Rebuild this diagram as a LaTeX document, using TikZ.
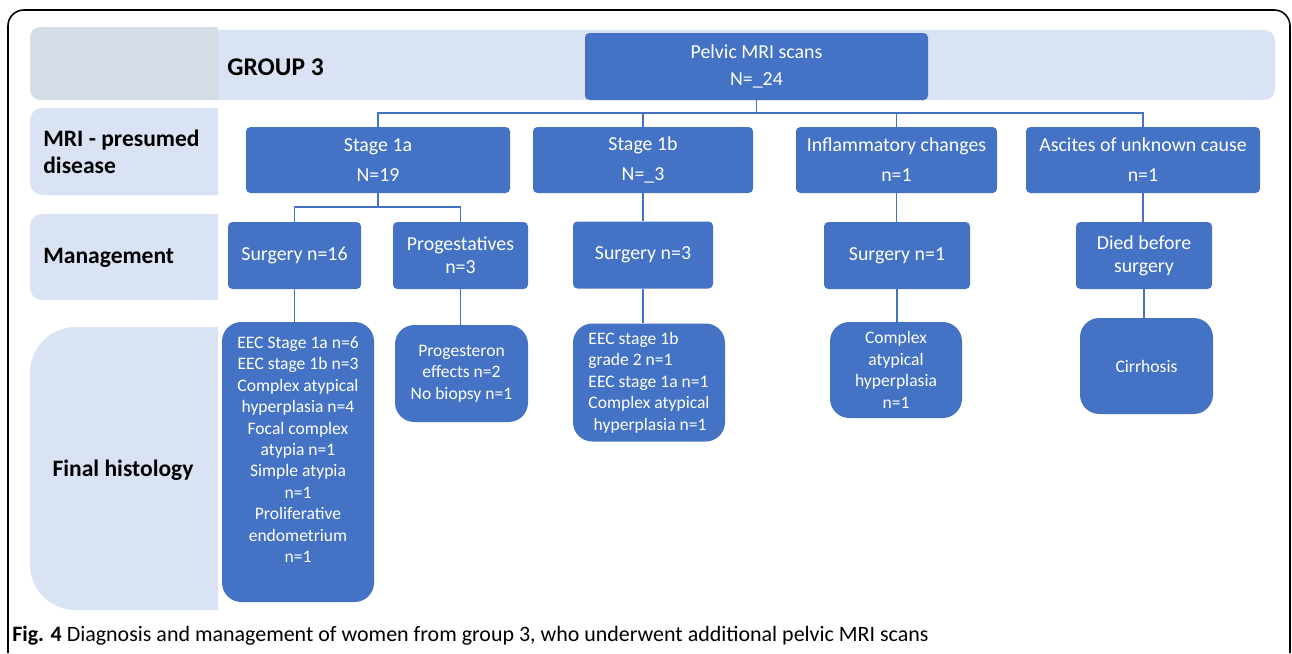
\documentclass[tikz,border=0pt]{standalone}
\usepackage{fontspec}
\setmainfont{Carlito}
\usepackage{tikz}
\usepackage{color}
\usetikzlibrary{positioning}
\definecolor{boxblue}{HTML}{4472C4}
\definecolor{bandblue}{HTML}{DAE3F3}
\definecolor{bandgray}{HTML}{D6DCE5}
\newcommand{\pxu}{0.02cm}
\tikzset{
	flowbox/.style={rectangle, rounded corners=2.5pt, fill=boxblue, text=white, inner sep=0pt, align=center, font=\fontsize{11.3}{17}\selectfont},
	histbox/.style={rectangle, rounded corners=11pt, fill=boxblue, text=white, inner sep=0pt, align=center, font=\fontsize{10}{12.2}\selectfont},
	rowlabel/.style={inner sep=0pt, align=left, font=\bfseries\fontsize{13.4}{15.5}\selectfont},
	link/.style={draw=boxblue, line width=0.6pt}
}
\begin{document}
\begin{tikzpicture}[x=0.02cm, y=-0.02cm]
					\useasboundingbox[fill=white] (0, 0) rectangle (1292, 653);
					\draw[line width=0.9pt, rounded corners=9pt] (8, 653) -- (8, 10) -- (1290, 10) -- (1290, 653);
					\fill[bandgray] (218, 27) [rounded corners=6pt] -- (30, 27) -- (30, 100) [sharp corners] -- (218, 100) -- cycle;
					\fill[bandblue] (218, 30) [rounded corners=6pt] -- (1275, 30) -- (1275, 100) [sharp corners] -- (218, 100) -- cycle;
					\fill[bandblue] (218, 108) [rounded corners=7pt] -- (30, 108) -- (30, 195) [sharp corners] -- (218, 195) -- cycle;
					\fill[bandblue] (218, 214) [rounded corners=7pt] -- (30, 214) -- (30, 300) [sharp corners] -- (218, 300) -- cycle;
					\fill[bandblue] (218, 327) [rounded corners=26pt] -- (30, 327) -- (30, 610) [sharp corners] -- (218, 610) -- cycle;
					\node[rowlabel, anchor=west, font=\bfseries\fontsize{14.5}{16}\selectfont] (group) at (227, 67) {GROUP 3};
					\node[rowlabel, anchor=west] (lbldisease) at (43, 152) {MRI - presumed\\disease};
					\node[rowlabel, anchor=west] (lblmanage) at (43, 258) {Management};
					\node[rowlabel] (lblhisto) at (123, 470) {Final histology};
					\node[flowbox, minimum width=343*\pxu, minimum height=67*\pxu, font=\fontsize{11.3}{15}\selectfont] (pelvic) at (756.5, 66.5) {Pelvic MRI scans\\N=\_24};
					\node[flowbox, minimum width=264*\pxu, minimum height=66*\pxu] (s1a) at (378, 160) {Stage 1a\\N=19};
					\node[flowbox, minimum width=220*\pxu, minimum height=66*\pxu] (s1b) at (643, 160) {Stage 1b\\N=\_3};
					\node[flowbox, minimum width=201*\pxu, minimum height=66*\pxu] (infl) at (896.5, 160) {Inflammatory changes\\n=1};
					\node[flowbox, minimum width=234*\pxu, minimum height=66*\pxu] (asc) at (1143, 160) {Ascites of unknown cause\\n=1};
					\node[flowbox, minimum width=133*\pxu, minimum height=67*\pxu] (surg16) at (294.5, 255.5) {Surgery n=16};
					\node[flowbox, minimum width=135*\pxu, minimum height=67*\pxu, font=\fontsize{11.3}{13}\selectfont] (prog) at (460.5, 255.5) {Progestatives\\n=3};
					\node[flowbox, minimum width=140*\pxu, minimum height=67*\pxu] (surg3) at (643, 255) {Surgery n=3};
					\node[flowbox, minimum width=146*\pxu, minimum height=67*\pxu] (surg1) at (897, 255.5) {Surgery n=1};
					\node[flowbox, minimum width=136*\pxu, minimum height=67*\pxu, font=\fontsize{11.3}{13}\selectfont] (died) at (1144, 255.5) {Died before\\surgery};
					\node[histbox, minimum width=152*\pxu, minimum height=280*\pxu] (hist1) at (298, 462) {EEC Stage 1a n=6\\EEC stage 1b n=3\\Complex atypical\\hyperplasia n=4\\Focal complex\\atypia n=1\\Simple atypia\\n=1\\Proliferative\\endometrium\\n=1\\[2pt]};
					\node[histbox, minimum width=133*\pxu, minimum height=97*\pxu] (hist2) at (461.5, 373.5) {Progesteron\\effects n=2\\No biopsy n=1};
					\node[histbox, minimum width=152*\pxu, minimum height=118*\pxu, align=left] (hist3) at (649, 382.5) {EEC stage 1b\\grade 2 n=1\\EEC stage 1a n=1\\Complex atypical\\\hspace*{0.3em}hyperplasia n=1};
					\node[histbox, minimum width=132*\pxu, minimum height=96*\pxu] (hist4) at (896, 370) {Complex\\atypical\\hyperplasia\\n=1};
					\node[histbox, minimum width=133*\pxu, minimum height=96*\pxu] (hist5) at (1146.5, 366) {Cirrhosis};
					\coordinate (busA) at (0, 113);
					\coordinate (busB) at (0, 207);
					\draw[link] (pelvic.south) -- (pelvic.south |- busA);
					\draw[link] (s1a.north) -- (s1a.north |- busA) -| (asc.north);
					\draw[link] (s1b.north) -- (s1b.north |- busA);
					\draw[link] (infl.north) -- (infl.north |- busA);
					\draw[link] (s1a.south) -- (s1a.south |- busB);
					\draw[link] (surg16.north) -- (surg16.north |- busB) -| (prog.north);
					\draw[link] (s1b.south) -- (s1b.south |- surg3.north);
					\draw[link] (infl.south) -- (infl.south |- surg1.north);
					\draw[link] (asc.south) -- (asc.south |- died.north);
					\draw[link] (surg16.south) -- (surg16.south |- hist1.north);
					\draw[link] (prog.south) -- (prog.south |- hist2.north);
					\draw[link] (surg3.south) -- (surg3.south |- hist3.north);
					\draw[link] (surg1.south) -- (surg1.south |- hist4.north);
					\draw[link] (died.south) -- (died.south |- hist5.north);
					\node[anchor=base west, inner sep=0pt, font=\fontsize{12.5}{14}\selectfont] (caption) at (12, 641) {\textbf{Fig. 4} Diagnosis and management of women from group 3, who underwent additional pelvic MRI scans};
				\end{tikzpicture}
\end{document}
